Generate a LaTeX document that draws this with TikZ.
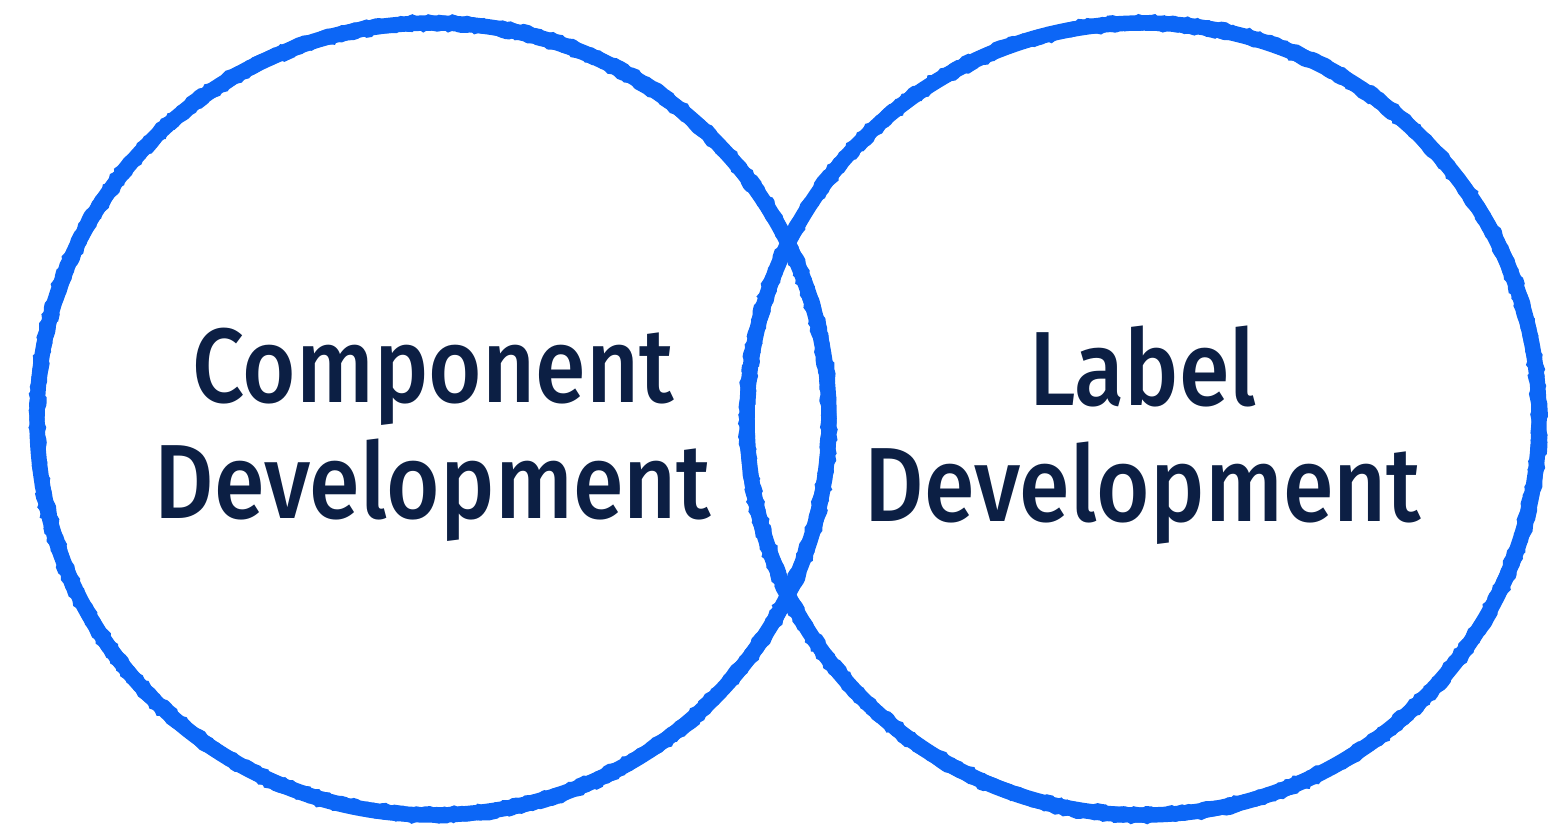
\documentclass[tikz,border=0pt]{standalone}
\usepackage{fontspec}
\setmainfont{Fira Sans Medium}[FakeStretch=0.87]
\usetikzlibrary{decorations.pathmorphing}
\definecolor{vennblue}{RGB}{12,102,246}
\definecolor{textnavy}{RGB}{12,31,68}
\tikzset{
  ring/.style={draw=vennblue, line width=4.4pt},
  fuzz/.style={draw=vennblue, line width=0.7pt, decorate,
    decoration={random steps, segment length=1.2pt, amplitude=0.45pt}},
  venntext/.style={align=center, text=textnavy, font=\fontsize{30}{33}\selectfont}
}
\begin{document}
\pgfmathsetseed{7}
\begin{tikzpicture}
  \useasboundingbox (0,0) rectangle (15.48,8.30);
  \coordinate (lc) at (4.33,4.11);
  \coordinate (rc) at (11.43,4.11);

  \foreach \c in {lc,rc} {
    \draw[ring] (\c) circle [radius=3.96];
    \draw[fuzz] (\c) circle [radius=3.895];
    \draw[fuzz] (\c) circle [radius=4.025];
  }

  \node[venntext, yshift=-0.16cm] (comp) at (lc) {Component\\Development};
  \node[venntext, yshift=-0.16cm] (lab) at (rc) {Label\\Development};
\end{tikzpicture}
\end{document}
